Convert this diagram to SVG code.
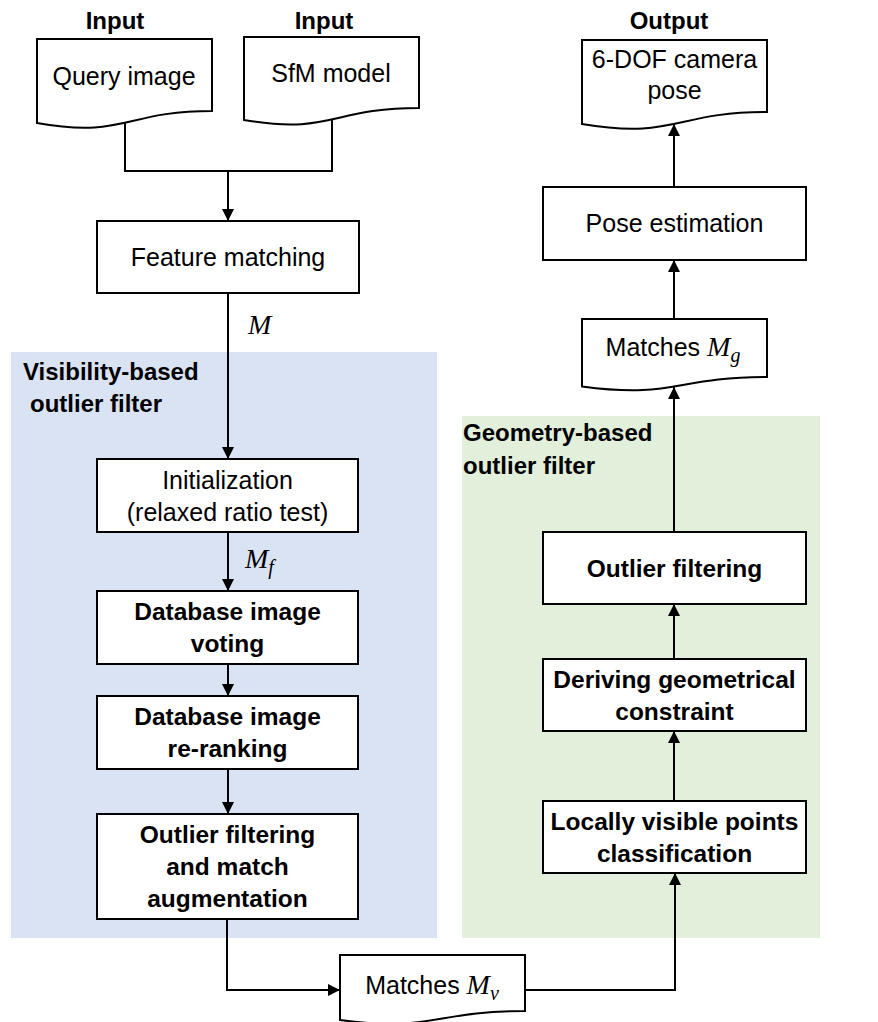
<svg xmlns="http://www.w3.org/2000/svg" width="878" height="1022" viewBox="0 0 878 1022">
<style>
.bg{fill:#fff}
.node{fill:#fff;stroke:#000;stroke-width:2}
.conn{fill:none;stroke:#000;stroke-width:2}
.t{font-family:"Liberation Sans",Arial,sans-serif;font-size:25px;fill:#000;text-anchor:middle}
.b{font-weight:bold;font-size:24.5px}
.lbl{font-family:"Liberation Sans",Arial,sans-serif;font-size:24px;font-weight:bold;fill:#000}
.m{font-family:"Liberation Serif","Times New Roman",serif;font-style:italic;font-size:28px;fill:#000}
.s{font-size:20px}
</style>
<defs>
<marker id="ah" markerUnits="userSpaceOnUse" markerWidth="12" markerHeight="12" viewBox="0 0 12 12" refX="12" refY="6" orient="auto">
<path d="M0,0 L12,6 L0,12 Z" fill="#000"/>
</marker>
</defs>
<rect class="bg" x="0" y="0" width="878" height="1022"/>
<g id="group-visibility">
<rect x="11" y="352" width="426" height="586" fill="#DAE3F3"/>
<text class="lbl" x="23" y="380" font-size="25">Visibility-based</text>
<text class="lbl" x="30" y="412" font-size="25">outlier filter</text>
</g>
<g id="group-geometry">
<rect x="462" y="416" width="358" height="522" fill="#E2EFDA"/>
<text class="lbl" x="463" y="441" font-size="25">Geometry-based</text>
<text class="lbl" x="463" y="474" font-size="25">outlier filter</text>
</g>
<g id="connectors">
<path class="conn" d="M125,118 V171 H332 V116"/>
<path class="conn" d="M228,171 V221" marker-end="url(#ah)"/>
<path class="conn" d="M228,293 V459" marker-end="url(#ah)"/>
<path class="conn" d="M228,532 V591" marker-end="url(#ah)"/>
<path class="conn" d="M228,664 V696" marker-end="url(#ah)"/>
<path class="conn" d="M228,769 V814" marker-end="url(#ah)"/>
<path class="conn" d="M227,919 V990 H340" marker-end="url(#ah)"/>
<path class="conn" d="M525,990 H675 V873" marker-end="url(#ah)"/>
<path class="conn" d="M674,801 V731" marker-end="url(#ah)"/>
<path class="conn" d="M674,659 V604" marker-end="url(#ah)"/>
<path class="conn" d="M674,532 V387" marker-end="url(#ah)"/>
<path class="conn" d="M674,319 V260" marker-end="url(#ah)"/>
<path class="conn" d="M674,187 V124" marker-end="url(#ah)"/>
<text class="m" x="248" y="334">M</text>
<text class="m" x="245" y="568">M<tspan class="s" dy="6">f</tspan></text>
</g>
<g id="input-labels">
<text class="lbl" x="115" y="29" text-anchor="middle">Input</text>
<text class="lbl" x="324" y="29" text-anchor="middle">Input</text>
<text class="lbl" x="669" y="29" text-anchor="middle">Output</text>
</g>
<g id="query-image">
<path class="node" d="M37,39 H212 V111 C124.5,111 124.5,138.6 37,123 Z"/>
<text class="t" x="124" y="85">Query image</text>
</g>
<g id="sfm-model">
<path class="node" d="M244,37 H419 V108 C331.5,108 331.5,135 244,120 Z"/>
<text class="t" x="331" y="82">SfM model</text>
</g>
<g id="feature-matching">
<rect class="node" x="97" y="221" width="262" height="72"/>
<text class="t" x="228" y="266">Feature matching</text>
</g>
<g id="initialization">
<rect class="node" x="97" y="459" width="261" height="73"/>
<text class="t" x="227.5" y="489">Initialization</text>
<text class="t" x="227.5" y="521">(relaxed ratio test)</text>
</g>
<g id="db-voting">
<rect class="node" x="97" y="591" width="261" height="73"/>
<text class="t b" x="227.5" y="620">Database image</text>
<text class="t b" x="227.5" y="652">voting</text>
</g>
<g id="db-reranking">
<rect class="node" x="97" y="696" width="261" height="73"/>
<text class="t b" x="227.5" y="725">Database image</text>
<text class="t b" x="227.5" y="757">re-ranking</text>
</g>
<g id="outlier-augmentation">
<rect class="node" x="97" y="814" width="261" height="105"/>
<text class="t b" x="227.5" y="843">Outlier filtering</text>
<text class="t b" x="227.5" y="875">and match</text>
<text class="t b" x="227.5" y="907">augmentation</text>
</g>
<g id="matches-mv">
<path class="node" d="M340,955 H525 V1011 C432.5,1011 432.5,1032.5 340,1020 Z"/>
<text class="t" x="432" y="994">Matches <tspan class="m">M<tspan class="s" dy="6">v</tspan></tspan></text>
</g>
<g id="locally-visible">
<rect class="node" x="543" y="801" width="263" height="72"/>
<text class="t b" x="674.5" y="830">Locally visible points</text>
<text class="t b" x="674.5" y="862">classification</text>
</g>
<g id="deriving-constraint">
<rect class="node" x="543" y="659" width="263" height="72"/>
<text class="t b" x="674.5" y="688">Deriving geometrical</text>
<text class="t b" x="674.5" y="720">constraint</text>
</g>
<g id="outlier-filtering">
<rect class="node" x="543" y="532" width="263" height="72"/>
<text class="t b" x="674.5" y="577">Outlier filtering</text>
</g>
<g id="matches-mg">
<path class="node" d="M582,319 H767 V377 C674.5,377 674.5,399 582,386.5 Z"/>
<text class="t" x="673" y="356">Matches <tspan class="m">M<tspan class="s" dy="6">g</tspan></tspan></text>
</g>
<g id="pose-estimation">
<rect class="node" x="543" y="187" width="263" height="73"/>
<text class="t" x="674.5" y="232">Pose estimation</text>
</g>
<g id="camera-pose">
<path class="node" d="M582,40 H767 V112 C674.5,112 674.5,139.6 582,124 Z"/>
<text class="t" x="674.5" y="68">6-DOF camera</text>
<text class="t" x="674.5" y="99">pose</text>
</g>
</svg>
